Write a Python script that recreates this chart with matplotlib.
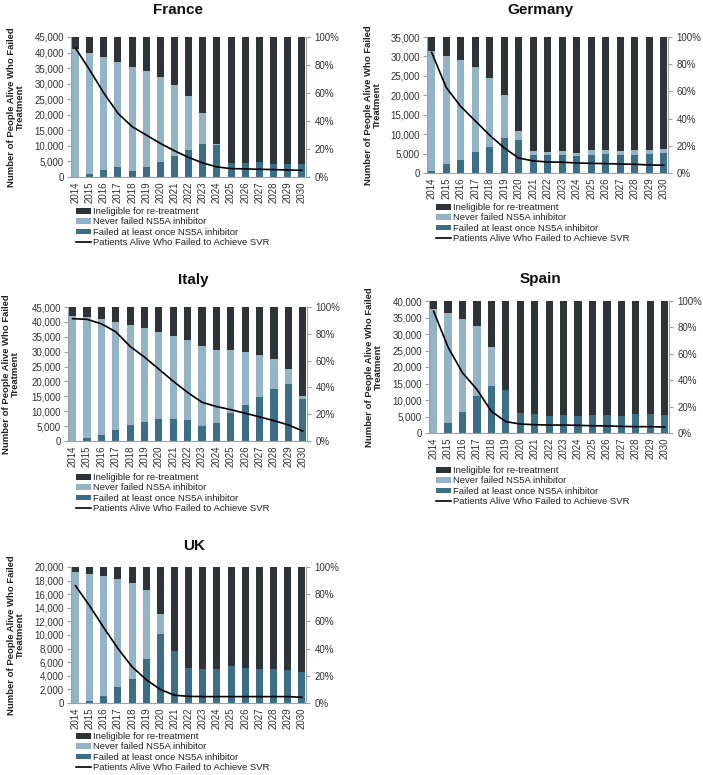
import numpy as np
import matplotlib
matplotlib.use("Agg")
from matplotlib import pyplot as plt
from matplotlib.ticker import FuncFormatter, MultipleLocator

plt.rcParams['font.family'] = ['Liberation Sans', 'DejaVu Sans']

years = [str(y) for y in range(2014, 2031)]

# France
fr_failed = [0, 1000, 2200, 3200, 2000, 3100, 4800, 6800, 8800, 10500, 10200, 4500, 4500, 4700, 4200, 4200, 4200]
fr_never = [41000, 39000, 36400, 33800, 33300, 30900, 27200, 22700, 17200, 10000, 500, 0, 0, 0, 0, 0, 0]
fr_inel = [4000, 5000, 6400, 8000, 9700, 11000, 13000, 15500, 19000, 24500, 34300, 40500, 40500, 40300, 40800, 40800, 40800]
fr_svr = [92, 76.5, 60, 45.5, 36, 30, 24, 18.7, 14, 10, 7.2, 6, 5.8, 5.5, 5.3, 5, 4.8]

# Germany
de_failed = [400, 2300, 3300, 5400, 6600, 9000, 8600, 4600, 4600, 4600, 4300, 4700, 4900, 4600, 4700, 4900, 5200]
de_never = [30900, 27900, 25700, 22000, 17900, 11000, 2100, 1000, 800, 1000, 900, 1200, 1000, 1000, 1100, 900, 900]
de_inel = [3700, 4800, 6000, 7600, 10500, 15000, 24300, 29400, 29600, 29400, 29800, 29100, 29100, 29400, 29200, 29200, 28900]
de_svr = [88.7, 63, 49, 38.4, 27.8, 18.5, 11, 8.9, 8.1, 7.9, 7.4, 7.1, 6.9, 6.6, 6.4, 5.9, 5.7]

# Italy
it_failed = [0, 1000, 2000, 3800, 5300, 6400, 7400, 7500, 6900, 5000, 6000, 9300, 12200, 14800, 17500, 19000, 14200]
it_never = [42000, 40500, 39000, 36200, 33700, 31400, 29200, 27900, 26900, 27000, 24700, 21100, 17600, 14200, 9900, 5200, 1000]
it_inel = [3000, 3500, 4000, 5000, 6000, 7200, 8400, 9600, 11200, 13000, 14300, 14600, 15200, 16000, 17600, 20800, 29800]
it_svr = [91.3, 90.8, 87.5, 81.5, 70.6, 62.6, 53.6, 44.6, 36.2, 28.9, 25.7, 23.4, 20.7, 18, 15.2, 12, 7.5]

# Spain
es_failed = [0, 3000, 6400, 11300, 14200, 12900, 6200, 5800, 5200, 5400, 5100, 5400, 5400, 5200, 5800, 5800, 5500]
es_never = [37500, 33300, 28200, 21200, 11800, 100, 0, 0, 0, 0, 0, 0, 0, 0, 0, 0, 0]
es_inel = [2500, 3700, 5400, 7500, 14000, 27000, 33800, 34200, 34800, 34600, 34900, 34600, 34600, 34800, 34200, 34200, 34500]
es_svr = [92.2, 65, 45.6, 33, 16.4, 8.6, 6.8, 6.3, 6, 6, 5.8, 5.5, 5.3, 5, 4.8, 4.8, 4.5]

# UK
uk_failed = [0, 300, 1000, 2400, 3500, 6400, 10100, 7600, 5100, 5000, 5000, 5400, 5100, 5000, 5000, 4900, 4600]
uk_never = [19300, 18700, 17700, 15900, 14200, 10200, 3000, 0, 0, 0, 0, 0, 0, 0, 0, 0, 0]
uk_inel = [700, 1000, 1300, 1700, 2300, 3400, 6900, 12400, 14900, 15000, 15000, 14600, 14900, 15000, 15000, 15100, 15400]
uk_svr = [86.2, 71.4, 55.4, 40.1, 26.6, 17.2, 9.9, 5.7, 4.9, 4.7, 4.7, 4.7, 4.7, 4.7, 4.7, 4.7, 4.2]

c_inel = '#2c3437'
c_never = '#93b3c7'
c_failed = '#3b6f88'
c_axis = '#a0a0a0'
c_text = '#333333'

W, H = 703, 775

# name, data, ymax, step, axes box in px (left, top, right, bottom), ylabel x, title (x, y), legend (x, top) px
panels = [
    ('France', fr_failed, fr_never, fr_inel, fr_svr, 45000, 5000, (71, 37, 306, 177), -0.235, (178, 10), (76, 207)),
    ('Germany', de_failed, de_never, de_inel, de_svr, 35000, 5000, (427, 37, 668, 173), -0.225, (540, 10), (436, 203)),
    ('Italy', it_failed, it_never, it_inel, it_svr, 45000, 5000, (68, 307, 307, 441), -0.24, (193, 280), (76, 473)),
    ('Spain', es_failed, es_never, es_inel, es_svr, 40000, 5000, (429, 301, 669, 433), -0.23, (540, 279), (436, 466)),
    ('UK', uk_failed, uk_never, uk_inel, uk_svr, 20000, 2000, (71, 567, 306, 703), -0.235, (194, 546), (76, 732)),
]

fig = plt.figure(figsize=(W / 100, H / 100), dpi=100)

for name, failed, never, inel, svr, ymax, step, box, ylx, tpos, lpos in panels:
    l, t, r, b = box
    ax = fig.add_axes([l / W, 1 - b / H, (r - l) / W, (b - t) / H])
    x = np.arange(len(years))
    failed = np.array(failed)
    never = np.array(never)
    inel = np.array(inel)
    b1 = ax.bar(x, failed, width=0.5, color=c_failed)
    b2 = ax.bar(x, never, width=0.5, bottom=failed, color=c_never)
    b3 = ax.bar(x, inel, width=0.5, bottom=failed + never, color=c_inel)
    ax.set_xlim(-0.32, len(years) - 0.7)
    ax.set_ylim(0, ymax)
    ax.yaxis.set_major_locator(MultipleLocator(step))
    ax.yaxis.set_major_formatter(FuncFormatter(lambda v, p: f'{int(v):,}'))
    ax.set_xticks(x)
    ax.set_xticklabels(years, rotation=90)
    ax.tick_params(axis='x', length=0, pad=3, labelsize=7, labelcolor=c_text)
    ax.tick_params(axis='y', length=3, width=0.8, color=c_axis, pad=2, labelsize=7, labelcolor=c_text)
    for s in ['top', 'right']:
        ax.spines[s].set_visible(False)
    for s in ['left', 'bottom']:
        ax.spines[s].set_color(c_axis)
        ax.spines[s].set_linewidth(0.8)
    ax.set_ylabel('Number of People Alive Who Failed\nTreatment', fontsize=6.8,
                  fontweight='bold', color='#222222', linespacing=1.0)
    ax.yaxis.label.set_va('center')
    ax.yaxis.set_label_coords(ylx, 0.5)

    ax2 = ax.twinx()
    ln, = ax2.plot(x, svr, color='black', lw=1.2)
    ax2.set_ylim(0, 100)
    ax2.yaxis.set_major_locator(MultipleLocator(20))
    ax2.yaxis.set_major_formatter(FuncFormatter(lambda v, p: f'{int(v)}%'))
    ax2.tick_params(axis='y', length=3, width=0.8, color=c_axis, pad=3, labelsize=7, labelcolor=c_text)
    for s in ['top', 'left', 'bottom']:
        ax2.spines[s].set_visible(False)
    ax2.spines['right'].set_color(c_axis)
    ax2.spines['right'].set_linewidth(0.8)

    leg = fig.legend([b3, b2, b1, ln],
                     ['Ineligible for re-treatment', 'Never failed NS5A inhibitor',
                      'Failed at least once NS5A inhibitor', 'Patients Alive Who Failed to Achieve SVR'],
                     loc='upper left', bbox_to_anchor=(lpos[0] / W, 1 - lpos[1] / H),
                     bbox_transform=fig.transFigure, frameon=False, fontsize=6.8,
                     handlelength=1.6, handleheight=0.55, handletextpad=0.15, labelspacing=0.15,
                     borderpad=0, borderaxespad=0)
    for txt in leg.get_texts():
        txt.set_color('#222222')

    fig.text(tpos[0] / W, 1 - tpos[1] / H, name, ha='center', va='center',
             fontsize=11, fontweight='bold', color='#111111')

fig.savefig('out.png', dpi=100)
